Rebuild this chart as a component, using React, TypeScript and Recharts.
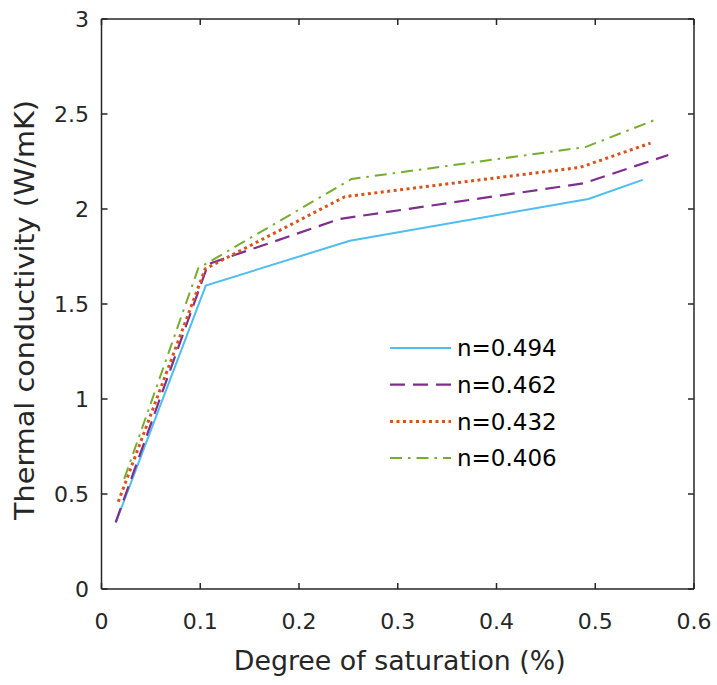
import React from 'react';
import { LineChart, Line, XAxis, YAxis, Legend, ReferenceLine } from 'recharts';

// Degree of saturation (x) and thermal conductivity (y) for each porosity
const n494 = [
  { x: 0.0144, y: 0.348 },
  { x: 0.1056, y: 1.597 },
  { x: 0.2515, y: 1.833 },
  { x: 0.493, y: 2.053 },
  { x: 0.548, y: 2.153 },
];
const n462 = [
  { x: 0.0144, y: 0.352 },
  { x: 0.108, y: 1.71 },
  { x: 0.2415, y: 1.948 },
  { x: 0.488, y: 2.135 },
  { x: 0.574, y: 2.284 },
];
const n432 = [
  { x: 0.017, y: 0.459 },
  { x: 0.105, y: 1.685 },
  { x: 0.2466, y: 2.065 },
  { x: 0.4846, y: 2.219 },
  { x: 0.556, y: 2.347 },
];
const n406 = [
  { x: 0.023, y: 0.58 },
  { x: 0.098, y: 1.688 },
  { x: 0.2533, y: 2.158 },
  { x: 0.49, y: 2.326 },
  { x: 0.563, y: 2.474 },
];

const xTicks = [0, 0.1, 0.2, 0.3, 0.4, 0.5, 0.6];
const yTicks = [0, 0.5, 1, 1.5, 2, 2.5, 3];

const series = [
  { name: 'n=0.494', data: n494, color: '#4DBEEE', width: 2, dash: undefined as string | undefined },
  { name: 'n=0.462', data: n462, color: '#7E2F8E', width: 2.2, dash: '15 8' },
  { name: 'n=0.432', data: n432, color: '#D95319', width: 3, dash: '3 3.5' },
  { name: 'n=0.406', data: n406, color: '#77AC30', width: 2, dash: '12 6 2.5 6' },
];

const FONT = 'DejaVu Sans';
const INK = '#262626';
const W = 717;
const H = 685;
const MARGIN = { top: 19, right: 23, bottom: 36, left: 41.5 };
const X_AXIS_H = 60;
const Y_AXIS_W = 60;
const PLOT_W = W - MARGIN.left - MARGIN.right - Y_AXIS_W;
const PLOT_H = H - MARGIN.top - MARGIN.bottom - X_AXIS_H;
const TICK_LEN = 6;
const X_GAP = 40;
const Y_GAP = 12.5;

const XTick = (p: any) => {
  const axisY = p.y - X_GAP;
  return (
    <g>
      <line x1={p.x} x2={p.x} y1={axisY} y2={axisY - TICK_LEN} stroke={INK} strokeWidth={1.5} />
      <line
        x1={p.x}
        x2={p.x}
        y1={axisY - PLOT_H}
        y2={axisY - PLOT_H + TICK_LEN}
        stroke={INK}
        strokeWidth={1.5}
      />
      <text x={p.x} y={p.y} textAnchor="middle" fontSize={22} fontFamily={FONT} fill={INK}>
        {String(p.payload.value)}
      </text>
    </g>
  );
};
const YTick = (p: any) => {
  const axisX = p.x + Y_GAP;
  return (
    <g>
      <line x1={axisX} x2={axisX + TICK_LEN} y1={p.y} y2={p.y} stroke={INK} strokeWidth={1.5} />
      <line
        x1={axisX + PLOT_W}
        x2={axisX + PLOT_W - TICK_LEN}
        y1={p.y}
        y2={p.y}
        stroke={INK}
        strokeWidth={1.5}
      />
      <text x={p.x} y={p.y} dy="0.36em" textAnchor="end" fontSize={22} fontFamily={FONT} fill={INK}>
        {String(p.payload.value)}
      </text>
    </g>
  );
};

const XTitle = (p: any) => {
  const vb = p.viewBox || { x: 0, y: 0, width: 0, height: 0 };
  return (
    <text
      x={vb.x + vb.width / 2 + 2}
      y={vb.y + vb.height + 21}
      textAnchor="middle"
      fontSize={26}
      fontFamily={FONT}
      fill={INK}
      textLength={332}
      lengthAdjust="spacingAndGlyphs"
    >
      Degree of saturation (%)
    </text>
  );
};
const YTitle = (p: any) => {
  const vb = p.viewBox || { x: 0, y: 0, width: 0, height: 0 };
  const cx = vb.x - 7.2;
  const cy = vb.y + vb.height / 2 + 6;
  return (
    <text
      x={cx}
      y={cy}
      transform={`rotate(-90 ${cx} ${cy})`}
      textAnchor="middle"
      fontSize={26}
      fontFamily={FONT}
      fill={INK}
      textLength={420}
      lengthAdjust="spacingAndGlyphs"
    >
      Thermal conductivity (W/mK)
    </text>
  );
};

const LegendBox = () => (
  <svg width={200} height={150} style={{ overflow: 'visible' }}>
    {series.map((s, i) => {
      const cy = 23 + i * 36.7;
      return (
        <g key={s.name}>
          <line
            x1={10}
            x2={71}
            y1={cy}
            y2={cy}
            stroke={s.color}
            strokeWidth={s.width}
            strokeDasharray={s.dash}
          />
          <text x={77} y={cy} dy="0.36em" fontSize={23} fontFamily={FONT} fill="#000">
            {s.name}
          </text>
        </g>
      );
    })}
  </svg>
);

export default function App() {
  return (
    <div style={{ position: 'absolute', left: 0, top: 0, background: '#fff' }}>
      <LineChart width={W} height={H} margin={MARGIN}>
        <XAxis
          dataKey="x"
          type="number"
          domain={[0, 0.6]}
          ticks={xTicks}
          allowDataOverflow
          height={X_AXIS_H}
          tickSize={0}
          tickMargin={X_GAP}
          tick={<XTick />}
          tickLine={false}
          axisLine={{ stroke: INK, strokeWidth: 1.5 }}
          label={{ content: <XTitle /> }}
        />
        <YAxis
          type="number"
          domain={[0, 3]}
          ticks={yTicks}
          allowDataOverflow
          width={Y_AXIS_W}
          tickSize={0}
          tickMargin={Y_GAP}
          tick={<YTick />}
          tickLine={false}
          axisLine={{ stroke: INK, strokeWidth: 1.5 }}
          label={{ content: <YTitle /> }}
        />
        <ReferenceLine y={3} stroke={INK} strokeWidth={1.5} />
        <ReferenceLine x={0.6} stroke={INK} strokeWidth={1.5} />
        {series.map((s) => (
          <Line
            key={s.name}
            name={s.name}
            data={s.data}
            dataKey="y"
            type="linear"
            stroke={s.color}
            strokeWidth={s.width}
            strokeDasharray={s.dash}
            dot={false}
            activeDot={false}
            isAnimationActive={false}
          />
        ))}
        <Legend
          layout="vertical"
          align="center"
          verticalAlign="middle"
          wrapperStyle={{ position: 'absolute', left: 380, top: 325, width: 200, height: 150 }}
          content={<LegendBox />}
        />
      </LineChart>
    </div>
  );
}
